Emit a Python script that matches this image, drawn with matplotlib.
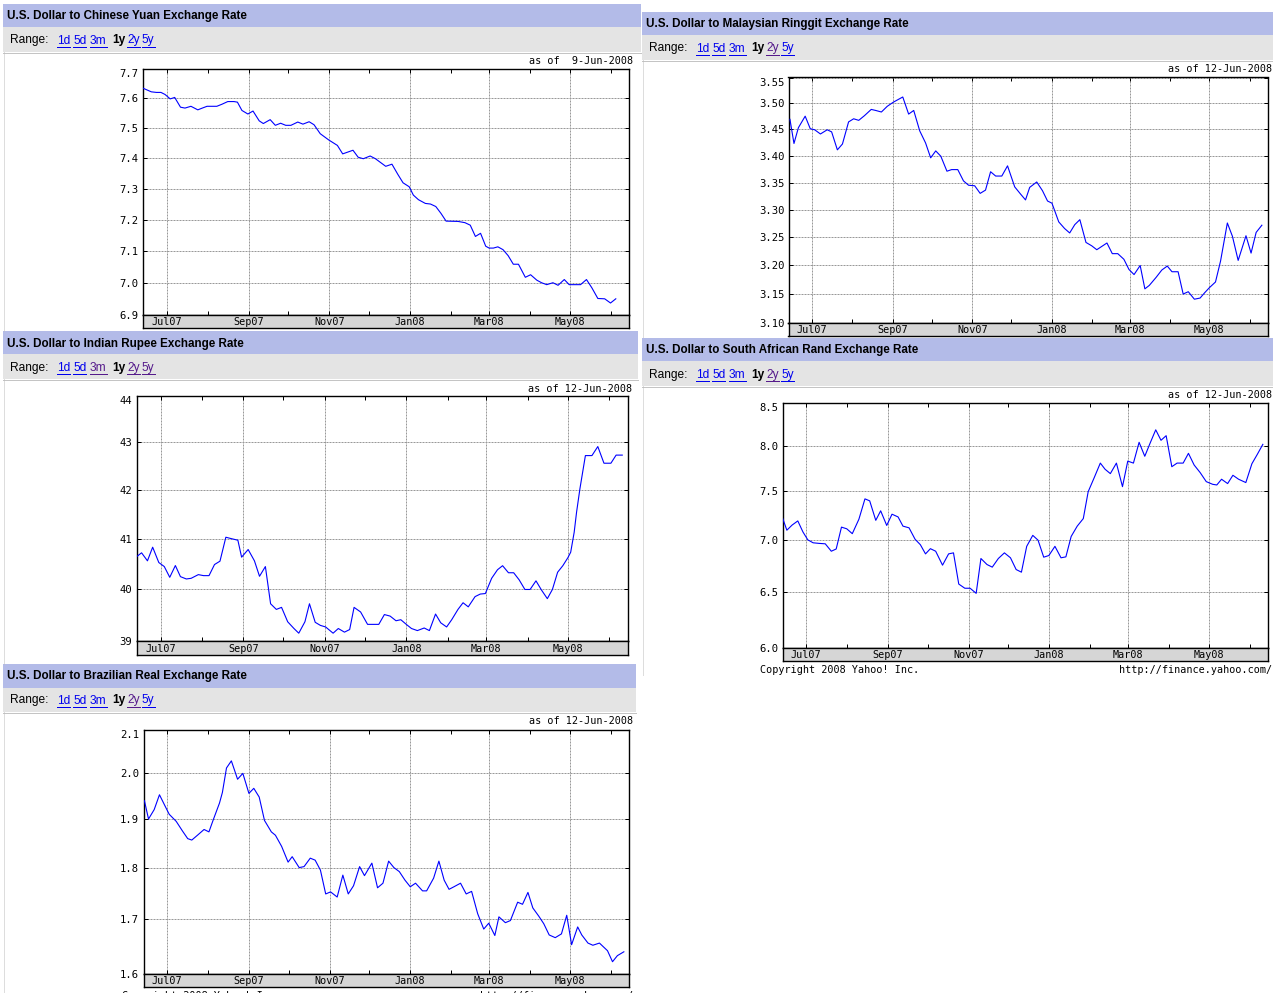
import matplotlib
matplotlib.use('Agg')
import matplotlib.pyplot as plt
import matplotlib.dates as mdates
import pandas as pd
from matplotlib.ticker import FixedLocator, NullFormatter, NullLocator
from matplotlib.patches import Rectangle
from matplotlib.lines import Line2D
from matplotlib.transforms import blended_transform_factory

W, H = 1273, 993
BASE = pd.Timestamp('2007-07-01')

# ---------------- data (days counted from 1-Jul-2007) ----------------
cny_days = [-17.8, -11.7, -7.8, -4.4, -1.3, 2.6, 6.0, 10.4, 13.8, 18.3,
            23.5, 26.9, 30.5, 37.9, 41.8, 46.2, 50.9, 53.5, 56.9, 61.4,
            65.3, 70.0, 73.1, 78.3, 82.2, 86.2, 90.1, 94.0, 99.2, 103.1,
            107.8, 111.5, 116.2, 122.7, 129.2, 133.2, 137.1, 141.0, 144.9, 148.8,
            154.0, 158.0, 165.8, 170.5, 174.9, 178.9, 183.6, 186.7, 190.6, 195.8,
            199.7, 203.7, 207.6, 211.5, 220.6, 225.8, 229.8, 233.7, 237.6, 241.5,
            244.1, 247.3, 250.7, 254.6, 258.5, 262.4, 266.3, 271.5, 275.5, 280.2,
            283.8, 287.7, 292.4, 296.3, 301.0, 304.7, 309.4, 313.3, 317.8, 321.9,
            326.4, 331.6, 336.0, 340.0]
cny_rate = [7.634, 7.622, 7.620, 7.620, 7.613, 7.598, 7.603, 7.570, 7.567, 7.573,
            7.561, 7.567, 7.573, 7.573, 7.580, 7.589, 7.589, 7.587, 7.559, 7.547,
            7.557, 7.524, 7.515, 7.528, 7.509, 7.516, 7.509, 7.509, 7.520, 7.513,
            7.521, 7.511, 7.481, 7.460, 7.442, 7.414, 7.420, 7.426, 7.403, 7.398,
            7.407, 7.398, 7.373, 7.380, 7.347, 7.319, 7.306, 7.279, 7.264, 7.252,
            7.250, 7.242, 7.220, 7.195, 7.194, 7.190, 7.182, 7.146, 7.156, 7.115,
            7.109, 7.109, 7.113, 7.104, 7.085, 7.058, 7.058, 7.017, 7.025, 7.008,
            7.000, 6.994, 7.000, 6.992, 7.010, 6.994, 6.994, 6.994, 7.010, 6.984,
            6.951, 6.950, 6.937, 6.950]

inr_days = [-17.8, -14.2, -9.8, -5.9, -1.3, 2.8, 6.9, 11.1, 14.9, 19.3,
            22.9, 28.3, 32.2, 36.3, 40.4, 44.5, 48.9, 52.8, 57.9, 60.7,
            65.6, 70.3, 74.1, 78.5, 82.4, 86.7, 90.6, 95.2, 99.9, 103.5,
            108.1, 111.5, 115.8, 119.7, 123.6, 129.2, 133.1, 137.7, 141.6, 144.9,
            149.8, 155.0, 163.4, 167.6, 171.9, 176.3, 179.9, 184.0, 187.9, 192.3,
            197.4, 201.3, 205.9, 209.8, 214.2, 218.0, 222.7, 226.5, 230.4, 235.5,
            239.4, 243.2, 247.9, 252.3, 256.1, 260.5, 264.4, 268.5, 272.8, 276.7,
            281.1, 285.2, 289.6, 293.4, 297.3, 301.2, 305.0, 307.1, 309.7, 311.5,
            314.0, 318.1, 323.0, 327.4, 332.0, 337.2, 341.1, 345.7]
inr_rate = [40.653, 40.727, 40.567, 40.84, 40.533, 40.453, 40.24, 40.473, 40.253, 40.207,
            40.22, 40.293, 40.273, 40.273, 40.493, 40.56, 41.04, 41.013, 40.98, 40.64,
            40.793, 40.567, 40.26, 40.453, 39.72, 39.61, 39.65, 39.37, 39.24, 39.15,
            39.37, 39.72, 39.36, 39.30, 39.27, 39.15, 39.24, 39.17, 39.22, 39.65,
            39.56, 39.32, 39.32, 39.51, 39.48, 39.39, 39.41, 39.32, 39.24, 39.20,
            39.25, 39.20, 39.52, 39.35, 39.27, 39.41, 39.61, 39.74, 39.66, 39.86,
            39.91, 39.92, 40.22, 40.39, 40.47, 40.33, 40.33, 40.19, 40.0, 40.0,
            40.17, 39.99, 39.82, 40.0, 40.34, 40.47, 40.63, 40.74, 41.14, 41.55,
            42.03, 42.72, 42.72, 42.91, 42.56, 42.56, 42.73, 42.73]

myr_days = [-16.9, -13.8, -10.4, -5.2, -1.3, 2.1, 6.5, 11.7, 15.1, 19.5,
            23.4, 28.1, 32.0, 35.9, 40.3, 45.5, 48.9, 53.3, 57.8, 62.5,
            69.7, 74.2, 78.1, 82.7, 87.2, 91.1, 95.0, 98.9, 103.6, 107.2,
            111.9, 116.3, 120.2, 124.9, 129.1, 133.2, 137.1, 141.0, 145.7, 150.1,
            155.6, 160.0, 163.9, 167.1, 172.5, 176.9, 180.8, 184.2, 189.4, 193.9,
            197.8, 201.7, 205.6, 210.3, 214.7, 218.6, 222.5, 226.4, 230.5, 234.7,
            239.4, 243.3, 247.2, 251.9, 255.5, 258.9, 264.1, 268.5, 272.7, 276.3,
            281.0, 284.9, 288.8, 293.5, 297.9, 301.3, 305.0, 309.7, 313.6, 318.8,
            322.7, 327.1, 333.1, 337.0, 340.9, 345.3]
myr_rate = [3.469, 3.423, 3.453, 3.475, 3.451, 3.449, 3.441, 3.449, 3.445, 3.411,
            3.422, 3.464, 3.470, 3.467, 3.476, 3.488, 3.486, 3.483, 3.494, 3.502,
            3.512, 3.479, 3.486, 3.447, 3.424, 3.396, 3.409, 3.399, 3.371, 3.374,
            3.374, 3.353, 3.345, 3.344, 3.330, 3.336, 3.370, 3.362, 3.362, 3.381,
            3.342, 3.329, 3.318, 3.341, 3.351, 3.335, 3.316, 3.312, 3.278, 3.266,
            3.258, 3.273, 3.282, 3.241, 3.235, 3.228, 3.234, 3.240, 3.221, 3.221,
            3.211, 3.193, 3.184, 3.200, 3.159, 3.165, 3.179, 3.192, 3.199, 3.189,
            3.189, 3.150, 3.154, 3.141, 3.143, 3.152, 3.161, 3.171, 3.208, 3.276,
            3.252, 3.209, 3.253, 3.222, 3.259, 3.272]

brl_days = [-17.3, -14.2, -9.9, -5.9, -1.9, 1.5, 6.8, 11.5, 15.5, 18.6,
            22.9, 27.9, 31.6, 34.7, 39.6, 41.8, 44.9, 48.6, 53.3, 57.3,
            61.9, 65.6, 69.7, 73.7, 78.9, 82.0, 86.7, 91.6, 94.7, 100.0,
            103.7, 108.4, 112.1, 116.1, 120.1, 123.8, 128.8, 133.1, 137.2, 141.2,
            145.8, 149.5, 155.1, 159.4, 163.5, 167.8, 171.8, 175.9, 180.2, 184.2,
            188.2, 193.5, 196.6, 201.9, 205.9, 209.9, 213.6, 217.3, 222.3, 226.6,
            230.7, 235.3, 239.9, 243.7, 248.3, 251.4, 256.3, 260.1, 265.6, 269.3,
            273.4, 277.1, 281.7, 285.4, 289.5, 294.1, 298.8, 302.8, 306.5, 311.1,
            314.2, 318.9, 322.6, 327.6, 333.7, 337.5, 341.2, 346.1]
brl_rate = [1.940, 1.901, 1.921, 1.953, 1.930, 1.911, 1.896, 1.876, 1.860, 1.857,
            1.867, 1.879, 1.874, 1.898, 1.935, 1.958, 2.012, 2.028, 1.987, 2.000,
            1.956, 1.967, 1.948, 1.898, 1.874, 1.867, 1.844, 1.812, 1.823, 1.801,
            1.803, 1.820, 1.816, 1.796, 1.749, 1.753, 1.743, 1.786, 1.749, 1.765,
            1.803, 1.785, 1.810, 1.761, 1.770, 1.814, 1.801, 1.793, 1.776, 1.763,
            1.770, 1.755, 1.755, 1.780, 1.814, 1.776, 1.758, 1.763, 1.770, 1.749,
            1.754, 1.711, 1.682, 1.693, 1.670, 1.705, 1.694, 1.698, 1.733, 1.729,
            1.752, 1.722, 1.706, 1.692, 1.671, 1.666, 1.673, 1.708, 1.653, 1.686,
            1.671, 1.656, 1.652, 1.656, 1.642, 1.622, 1.633, 1.640]

zar_days = [-17.8, -14.7, -10.7, -6.4, -2.5, 1.2, 5.2, 9.8, 14.4, 19.0,
            22.7, 26.7, 30.7, 34.9, 39.9, 44.5, 48.1, 52.7, 56.4, 61.0,
            65.0, 69.6, 73.3, 77.9, 82.5, 86.5, 90.4, 94.1, 98.1, 103.3,
            107.9, 111.6, 115.6, 120.2, 124.2, 128.8, 132.4, 137.0, 141.0, 145.6,
            150.2, 154.8, 159.1, 163.1, 167.1, 171.7, 175.7, 180.0, 183.9, 188.5,
            193.1, 196.8, 200.8, 205.4, 210.0, 213.7, 218.3, 222.9, 226.5, 230.5,
            235.1, 239.7, 243.7, 248.0, 252.3, 256.6, 260.6, 264.9, 268.9, 272.8,
            277.1, 281.1, 285.7, 289.7, 294.0, 298.6, 303.2, 308.1, 311.2, 314.8,
            319.4, 323.4, 327.7, 333.2, 337.8, 341.8, 346.1]
zar_rate = [7.212, 7.094, 7.146, 7.188, 7.076, 6.997, 6.968, 6.962, 6.958, 6.885,
            6.907, 7.125, 7.108, 7.059, 7.205, 7.417, 7.396, 7.194, 7.292, 7.142,
            7.257, 7.229, 7.135, 7.118, 7.003, 6.949, 6.859, 6.910, 6.885, 6.750,
            6.859, 6.869, 6.571, 6.532, 6.532, 6.485, 6.814, 6.756, 6.731, 6.814,
            6.869, 6.821, 6.708, 6.683, 6.933, 7.042, 6.994, 6.827, 6.843, 6.933,
            6.821, 6.830, 7.031, 7.135, 7.212, 7.493, 7.645, 7.804, 7.736, 7.688,
            7.804, 7.547, 7.826, 7.804, 8.038, 7.880, 8.027, 8.182, 8.061, 8.114,
            7.764, 7.804, 7.804, 7.913, 7.783, 7.699, 7.601, 7.572, 7.565, 7.627,
            7.580, 7.670, 7.627, 7.591, 7.797, 7.899, 8.015]

cny_ticks = [6.9, 7.0, 7.1, 7.2, 7.3, 7.4, 7.5, 7.6, 7.7]
inr_ticks = [39, 40, 41, 42, 43, 44]
brl_ticks = [1.6, 1.7, 1.8, 1.9, 2.0, 2.1]
myr_ticks = [3.10, 3.15, 3.20, 3.25, 3.30, 3.35, 3.40, 3.45, 3.50, 3.55]
zar_ticks = [6.0, 6.5, 7.0, 7.5, 8.0, 8.5]

month_labels = ['Jul07', 'Sep07', 'Nov07', 'Jan08', 'Mar08', 'May08']
month_dates = ['2007-07-01', '2007-09-01', '2007-11-01', '2008-01-01', '2008-03-01', '2008-05-01']
minor_dates = ['2007-08-01', '2007-10-01', '2007-12-01', '2008-02-01', '2008-04-01', '2008-06-01']
range_links = ['1d', '5d', '3m', '1y', '2y', '5y']
x_range = ['2007-06-13', '2008-06-15']

# ---------------- styling ----------------
BAR = '#B3BBE8'
ROW = '#E4E4E4'
BAND = '#D6D6D6'
LINK = '#0000EE'
VISITED = '#551A8B'
GRID = '#999999'
MONO = 'DejaVu Sans Mono'
SANS = 'Liberation Sans'
PX = 0.72  # one pixel in points

fig = plt.figure(figsize=(W / 100, H / 100), dpi=100)
fig.patch.set_facecolor('white')


def fx(x):
    return x / W


def fy(y):
    return 1 - y / H


texts_to_underline = []


def header(L, R, top, title, visited, asof, asof_right):
    fig.add_artist(Rectangle((fx(L), fy(top + 23.5)), (R - L) / W, 23.5 / H,
                             transform=fig.transFigure, facecolor=BAR, edgecolor='none'))
    fig.add_artist(Rectangle((fx(L), fy(top + 48)), (R - L) / W, 24.5 / H,
                             transform=fig.transFigure, facecolor=ROW, edgecolor='none'))
    fig.add_artist(Line2D([fx(L), fx(R)], [fy(top + 48.5)] * 2, transform=fig.transFigure,
                          color='#C4C4C4', lw=PX))
    fig.text(fx(L + 4), fy(top + 12.5), title, family=SANS, fontweight='bold',
             fontsize=8.4, va='center', ha='left', color='black')
    fig.text(fx(L + 7), fy(top + 36.5), 'Range:', family=SANS, fontsize=8.6,
             va='center', ha='left', color='black')
    offs = [54, 70, 87, 109, 124, 139]
    for lab, off in zip(range_links, offs):
        if lab == '1y':
            fig.text(fx(L + off), fy(top + 36.5), lab, family=SANS, fontsize=8.6,
                     fontweight='bold', va='center', ha='left', color='black')
        else:
            col = VISITED if lab in visited else LINK
            t = fig.text(fx(L + off), fy(top + 36.5), lab, family=SANS, fontsize=8.6,
                         va='center', ha='left', color=col)
            texts_to_underline.append((t, top + 43, col))
    fig.text(fx(asof_right), fy(top + 57.5), asof, family=MONO, fontsize=7.3,
             va='center', ha='right', color='black')


def chart(x0, x1, yt, yb, bb, days, rate, ticks, fmt):
    ax = fig.add_axes([fx(x0), fy(yb), (x1 - x0) / W, (yb - yt) / H])
    dates = BASE + pd.to_timedelta(days, unit='D')
    ax.plot(dates, rate, color='#0000FF', lw=0.8, zorder=3)
    ax.set_yscale('log')
    ax.set_ylim(ticks[0], ticks[-1])
    ax.set_xlim(pd.Timestamp(x_range[0]), pd.Timestamp(x_range[1]))
    ax.yaxis.set_major_locator(FixedLocator(ticks))
    ax.yaxis.set_minor_locator(NullLocator())
    ax.yaxis.set_minor_formatter(NullFormatter())
    ax.set_yticklabels([fmt.format(v) for v in ticks], family=MONO, fontsize=7.6)
    labs = ax.get_yticklabels()
    labs[-1].set_va('top')
    ax.xaxis.set_major_locator(FixedLocator(mdates.date2num(pd.to_datetime(month_dates))))
    ax.xaxis.set_minor_locator(FixedLocator(mdates.date2num(pd.to_datetime(minor_dates))))
    ax.xaxis.set_major_formatter(NullFormatter())
    ax.tick_params(axis='both', which='both', direction='in', length=4 * PX, width=PX,
                   top=True, right=True, bottom=True, left=True, labelbottom=False, pad=3)
    ax.grid(True, which='major', color=GRID, linestyle=(0, (2, 1)), linewidth=PX, zorder=1)
    for s in ax.spines.values():
        s.set_linewidth(1.0)
        s.set_color('black')
    ax.set_facecolor('white')
    # date band below the plot
    band = fig.add_axes([fx(x0), fy(bb), (x1 - x0) / W, (bb - yb) / H])
    band.set_facecolor(BAND)
    band.set_xlim(ax.get_xlim())
    band.set_ylim(0, 1)
    band.set_xticks([])
    band.set_yticks([])
    for s in band.spines.values():
        s.set_linewidth(1.0)
        s.set_color('black')
    tr = blended_transform_factory(band.transData, band.transAxes)
    for d, lab in zip(pd.to_datetime(month_dates), month_labels):
        band.text(mdates.date2num(d), 0.45, lab, transform=tr, ha='center', va='center',
                  family=MONO, fontsize=7.3, color='black')
    return ax


def vline(x, y0, y1):
    fig.add_artist(Line2D([fx(x), fx(x)], [fy(y0), fy(y1)], transform=fig.transFigure,
                          color='#BDBDBD', lw=PX, linestyle=(0, (1, 1))))


# China
header(3, 641, 4, 'U.S. Dollar to Chinese Yuan Exchange Rate', [], 'as of  9-Jun-2008', 633)
chart(143, 629, 69, 315, 328, cny_days, cny_rate, cny_ticks, '{:.1f}')
vline(3.5, 52, 331)

# India
header(3, 638, 331, 'U.S. Dollar to Indian Rupee Exchange Rate', ['3m', '2y', '5y'],
       'as of 12-Jun-2008', 632)
chart(136.5, 628, 395.5, 641, 655, inr_days, inr_rate, inr_ticks, '{:.0f}')
vline(3.5, 379, 664)

# Brazil
header(3, 636, 664, 'U.S. Dollar to Brazilian Real Exchange Rate', ['2y'],
       'as of 12-Jun-2008', 633)
chart(143.5, 629, 729.5, 974, 987, brl_days, brl_rate, brl_ticks, '{:.1f}')
vline(3.5, 712, 993)
fig.text(fx(122), fy(996), 'Copyright 2008 Yahoo! Inc.', family=MONO, fontsize=7.3,
         ha='left', va='center')
fig.text(fx(633), fy(996), 'http://finance.yahoo.com/', family=MONO, fontsize=7.3,
         ha='right', va='center')

# Malaysia
header(642, 1273, 12, 'U.S. Dollar to Malaysian Ringgit Exchange Rate', ['2y'],
       'as of 12-Jun-2008', 1272)
chart(788.5, 1268, 77.5, 323, 336, myr_days, myr_rate, myr_ticks, '{:.2f}')
vline(642.5, 60, 338)

# South Africa
header(642, 1273, 338, 'U.S. Dollar to South African Rand Exchange Rate', ['2y'],
       'as of 12-Jun-2008', 1272)
chart(782.5, 1268, 403, 648, 661, zar_days, zar_rate, zar_ticks, '{:.1f}')
vline(642.5, 386, 676)
fig.text(fx(760), fy(670), 'Copyright 2008 Yahoo! Inc.', family=MONO, fontsize=7.3,
         ha='left', va='center')
fig.text(fx(1272), fy(670), 'http://finance.yahoo.com/', family=MONO, fontsize=7.3,
         ha='right', va='center')

# underlines for the links
renderer = fig.canvas.get_renderer()
for t, uy, col in texts_to_underline:
    bb = t.get_window_extent(renderer=renderer)
    fig.add_artist(Line2D([bb.x0 / W, bb.x1 / W], [fy(uy)] * 2, transform=fig.transFigure,
                          color=col, lw=PX))

fig.savefig('out.png', dpi=100, facecolor='white')
